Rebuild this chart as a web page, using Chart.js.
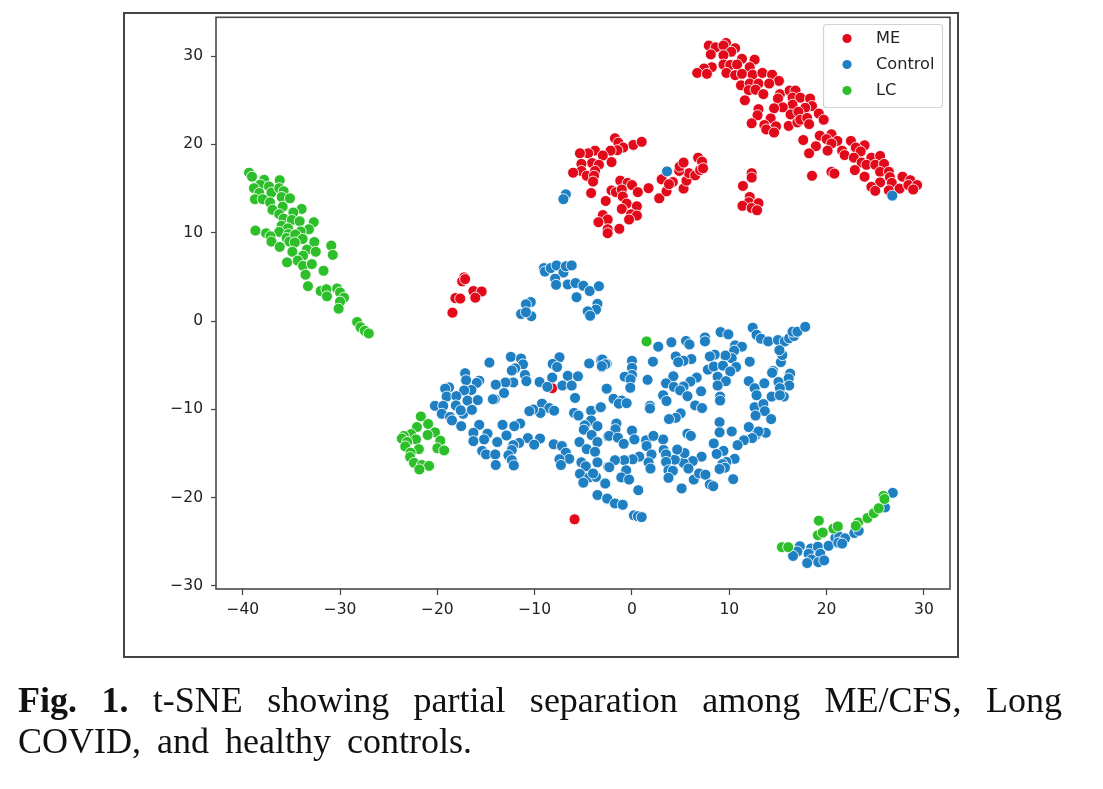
<!DOCTYPE html>
<html>
<head>
<meta charset="utf-8">
<title>t-SNE</title>
<script src="https://cdn.jsdelivr.net/npm/chart.js@4"></script>
<style>
  html, body { margin: 0; padding: 0; background: #fff; }
  body { width: 1103px; height: 789px; position: relative; overflow: hidden; }
  #frame { position: absolute; left: 123px; top: 12px; width: 832px; height: 642px; border: 2px solid #444; }
  canvas { position: absolute; left: 0; top: 0; }
  .caption { position: absolute; left: 18px; width: 1044px; font-family: "Liberation Serif", serif; font-size: 36px; line-height: 40px; color: #111; white-space: nowrap; }
  #line1 { top: 680px; text-align: justify; text-align-last: justify; white-space: normal; }
  #line2 { top: 721px; word-spacing: 7px; }
</style>
</head>
<body>
<div id="frame"></div>
<canvas id="chart" width="1103" height="789"></canvas>
<div class="caption" id="line1"><b>Fig. 1.</b> t-SNE showing partial separation among ME/CFS, Long</div>
<div class="caption" id="line2">COVID, and healthy controls.</div>
<script>
const xTicks = [-40, -30, -20, -10, 0, 10, 20, 30];
const yTicks = [-30, -20, -10, 0, 10, 20, 30];
const seriesNames = ['ME', 'Control', 'LC'];
const seriesColors = ['#e2091a', '#1e7fc3', '#2dbf2a'];

const mePoints = [
  [7.9,31.2],[8.6,31.0],[9.66,31.5],[9.4,31.2],[10.6,30.9],[10.2,30.5],[8.1,30.2],[9.4,30.1],[11.3,29.7],[12.6,29.6],
  [9.4,29.05],[10.1,29.0],[10.8,29.05],[8.2,28.75],[7.4,28.6],[6.7,28.1],[7.7,28.0],[9.7,28.1],[12.1,28.75],[10.6,27.85],
  [11.3,28.0],[12.4,27.9],[13.4,28.1],[14.4,27.9],[15.1,27.2],[11.2,26.7],[12.1,26.9],[13.0,26.9],[14.1,26.9],[12.0,26.15],
  [12.7,26.2],[13.5,25.7],[11.6,25.0],[15.2,25.7],[15.0,25.2],[16.2,26.1],[16.8,26.1],[16.5,25.3],[17.3,25.3],[18.3,25.2],
  [18.5,24.35],[16.5,24.5],[15.5,24.2],[14.6,24.1],[17.8,24.15],[13.0,24.0],[12.9,23.3],[14.25,22.95],[16.3,23.4],[17.1,23.7],
  [19.2,23.5],[19.7,22.8],[12.3,22.4],[13.6,22.2],[14.8,22.05],[13.8,21.7],[14.6,21.35],[16.1,22.1],[17.0,22.5],[17.3,22.8],
  [18.0,23.0],[18.2,22.3],[17.6,20.5],[19.3,21.0],[20.5,21.15],[20.0,20.6],[21.1,20.4],[20.5,20.1],[22.5,20.4],[23.9,19.9],
  [23.0,19.65],[18.9,19.8],[20.1,19.3],[18.2,19.0],[21.6,19.3],[21.85,18.8],[23.5,19.2],[22.8,18.5],[24.6,18.5],[25.5,18.7],
  [23.6,17.95],[24.1,17.7],[25.0,17.7],[25.9,17.8],[25.5,16.9],[22.9,17.1],[26.4,16.9],[26.5,16.3],[18.5,16.45],[20.5,16.9],
  [20.8,16.7],[23.9,16.35],[27.8,16.35],[28.6,15.95],[26.7,15.65],[25.5,15.7],[24.6,15.2],[25.0,14.75],[26.4,14.8],[27.5,15.0],
  [28.4,15.4],[29.3,15.4],[28.9,14.9],
  [-1.75,20.7],[-1.4,20.2],[0.14,19.95],[1.0,20.3],[-0.9,19.65],[-1.5,19.35],[-2.2,19.3],[-3.8,19.3],[-4.5,19.0],[-5.35,19.0],
  [-3.0,18.75],[-2.1,18.0],[-4.1,17.9],[-3.4,17.7],[-5.2,17.8],[-5.2,17.0],[-4.65,16.45],[-3.8,17.0],[-6.05,16.8],[-3.9,16.45],
  [-4.0,15.8],[-4.2,14.5],[-1.2,15.9],[-0.45,15.65],[0.0,15.4],[-2.1,14.8],[-1.65,14.6],[-1.05,14.9],[0.6,14.6],[1.7,15.05],
  [-0.95,14.1],[-2.7,13.6],[-0.55,13.3],[0.5,13.0],[-1.05,12.7],[-0.1,12.1],[0.5,11.95],[-0.3,11.5],[-3.0,12.0],[-2.5,11.5],
  [-3.45,11.2],[-2.5,10.4],[-2.5,9.95],[-1.3,10.45],[2.8,13.9],[3.55,14.7],[4.2,15.75],[3.05,16.05],[5.3,15.0],[5.6,15.9],
  [5.85,16.75],[6.5,16.5],[4.85,17.0],[4.9,17.5],[5.3,17.95],[6.8,18.5],[7.2,18.05],[7.0,17.1],[7.3,17.3],[3.8,15.5],
  [12.3,16.75],[12.3,16.25],[11.4,15.3],[12.1,14.05],[12.0,13.45],[13.0,13.35],[11.35,13.05],[12.3,12.8],[12.85,12.55],
  [-17.25,4.95],[-17.45,4.5],[-17.15,4.75],[-16.3,3.4],[-15.45,3.35],[-16.1,2.65],[-18.15,2.6],[-17.65,2.55],[-18.45,0.95],
  [-8.2,-7.6],[-5.9,-22.45]
];

const controlPoints = [
  [26.75,14.2],[3.6,16.95],[-6.8,14.35],[-7.05,13.8],[-9.05,6.0],[-8.95,5.6],[-8.35,6.0],[-7.75,6.3],[-7.05,5.5],[-6.8,6.2],
  [-6.2,6.3],[-7.9,4.8],[-7.8,4.1],[-6.6,4.15],[-5.8,4.3],[-5.0,4.0],[-4.35,3.4],[-3.4,3.95],[-5.7,2.7],[-3.55,1.95],
  [-3.7,1.3],[-4.55,1.1],[-4.3,0.6],[-10.4,2.15],[-10.35,0.55],[-10.9,1.9],[-11.4,0.8],[-10.9,1.0],
  [-14.65,-4.7],[-12.45,-4.05],[-11.4,-4.25],[-11.2,-4.9],[-12.0,-5.35],[-12.35,-5.6],[-11.0,-6.1],[-10.85,-6.8],[-12.2,-6.95],[-13.0,-6.95],
  [-14.0,-7.2],[-13.15,-8.15],[-14.1,-8.85],[-14.3,-8.85],[-17.15,-5.9],[-17.05,-6.7],[-15.7,-6.75],[-15.95,-7.0],[-16.5,-7.8],[-17.25,-7.85],
  [-18.8,-7.5],[-19.2,-7.65],[-19.05,-8.55],[-18.05,-8.5],[-16.9,-9.0],[-15.85,-8.95],[-20.25,-9.6],[-19.4,-9.6],[-18.1,-9.55],[-19.55,-10.5],
  [-17.35,-10.5],[-16.45,-10.05],[-17.6,-10.1],[-18.7,-10.85],[-18.5,-11.25],[-17.55,-11.9],[-15.7,-11.75],[-13.3,-11.75],[-11.5,-11.6],[-12.1,-11.9],
  [-16.3,-12.65],[-14.85,-12.75],[-15.2,-13.4],[-12.9,-12.95],[-16.3,-13.6],[-13.85,-13.7],[-10.7,-13.25],[-9.45,-13.3],[-10.05,-14.0],[-11.6,-13.8],
  [-12.2,-14.05],[-12.35,-14.6],[-15.4,-14.7],[-15.0,-15.1],[-14.05,-15.1],[-12.7,-15.2],[-12.35,-15.75],[-14.0,-16.3],[-12.15,-16.35],[-8.05,-13.95],
  [-7.2,-14.15],[-6.8,-14.9],[-6.45,-15.6],[-7.45,-15.65],[-7.3,-16.3],[-7.45,-4.1],[-8.15,-4.85],[-7.7,-5.2],[-8.2,-6.4],[-9.5,-6.9],
  [-8.7,-7.45],[-6.6,-6.2],[-5.55,-6.25],[-7.15,-7.3],[-6.2,-7.3],[-4.4,-4.8],[-3.2,-4.4],[-3.1,-5.2],[-2.6,-4.85],[-2.6,-7.7],
  [-5.85,-8.7],[-9.25,-9.35],[-8.5,-9.85],[-8.0,-10.15],[-9.4,-10.4],[-10.15,-10.0],[-10.55,-10.2],[-5.95,-10.4],[-5.5,-10.7],[-4.2,-10.15],
  [-3.3,-9.8],[-4.2,-11.25],[-4.85,-11.8],[-3.55,-11.9],[-4.95,-12.3],[-4.15,-12.9],[-2.45,-13.05],[-5.4,-13.7],[-3.55,-13.7],[-4.65,-14.5],
  [-3.8,-14.8],[-5.2,-16.0],[-3.55,-16.0],[-4.75,-16.45],[-5.35,-17.3],[-2.45,-16.5],[-4.4,-17.7],[-3.7,-17.65],[-4.0,-17.25],[-5.0,-18.3],
  [-2.75,-18.35],[-3.55,-19.7],[-2.55,-20.15],
  [2.7,-2.9],[4.05,-2.4],[5.55,-2.25],[5.9,-2.65],[7.5,-1.85],[7.5,-2.3],[9.1,-1.25],[9.9,-1.5],[12.4,-0.75],[12.8,-1.55],
  [13.25,-2.0],[14.0,-2.3],[15.0,-2.15],[15.7,-2.3],[16.15,-1.95],[16.65,-1.7],[16.5,-1.2],[17.0,-1.2],[17.8,-0.65],[10.6,-2.75],
  [11.3,-2.9],[10.5,-3.35],[10.25,-4.2],[9.6,-3.9],[8.5,-3.8],[8.0,-4.0],[4.5,-4.0],[6.1,-4.3],[5.3,-4.5],[4.75,-4.65],
  [2.15,-4.6],[0.0,-4.5],[-3.05,-4.35],[-2.75,-4.9],[-3.1,-5.1],[0.0,-5.3],[0.0,-6.1],[-0.75,-6.3],[-0.15,-6.6],[-0.17,-7.55],
  [1.6,-6.65],[4.25,-6.25],[6.65,-6.4],[6.0,-6.85],[3.5,-7.05],[4.3,-7.45],[5.3,-7.4],[4.95,-7.85],[7.1,-7.95],[5.7,-8.5],
  [3.2,-8.4],[3.55,-9.05],[-2.6,-7.65],[-1.9,-8.8],[-1.05,-9.0],[-1.35,-9.35],[-0.55,-9.3],[-3.2,-9.75],[1.85,-9.6],[1.85,-9.9],
  [6.5,-9.55],[7.2,-9.85],[5.0,-10.45],[4.5,-10.95],[3.8,-11.1],[7.8,-5.5],[8.4,-5.15],[9.35,-5.05],[10.7,-5.2],[10.1,-5.7],
  [12.1,-4.6],[8.8,-6.3],[9.65,-6.8],[8.8,-7.3],[9.05,-8.55],[9.05,-9.0],[14.5,-5.65],[14.4,-5.85],[16.25,-5.95],[16.1,-6.5],
  [15.3,-4.65],[15.45,-3.85],[15.15,-3.3],[12.0,-6.8],[12.6,-7.6],[12.8,-8.4],[13.6,-7.05],[15.05,-6.9],[16.15,-7.3],[15.2,-7.6],
  [14.35,-8.55],[15.6,-8.55],[15.2,-8.4],[12.6,-9.75],[13.5,-9.4],[13.65,-10.2],[12.7,-10.7],[14.3,-11.1],[9.0,-11.45],[12.0,-12.0],
  [9.0,-12.6],[10.25,-12.5],[13.75,-12.65],[12.75,-12.85],[13.0,-12.5],[12.35,-13.25],[11.5,-13.5],[10.85,-14.05],[8.4,-13.85],[9.4,-14.7],
  [8.7,-15.05],[10.55,-15.6],[9.7,-15.95],[9.3,-16.2],[9.55,-16.6],[9.0,-16.75],[10.4,-17.9],[7.15,-15.35],[6.25,-15.85],[5.3,-16.05],
  [4.4,-15.7],[5.4,-14.95],[4.65,-14.55],[3.2,-13.4],[3.25,-14.6],[3.5,-15.1],[3.5,-15.95],[3.75,-16.9],[4.2,-16.95],[3.75,-17.75],
  [5.8,-16.7],[6.35,-17.95],[6.9,-17.25],[7.55,-17.4],[8.0,-18.5],[8.35,-18.7],[5.1,-18.95],[5.7,-12.75],[6.05,-13.0],[1.45,-13.5],
  [2.2,-13.0],[1.5,-14.15],[2.0,-15.1],[1.7,-16.0],[1.9,-16.7],[0.75,-15.35],[0.07,-15.65],[-0.8,-15.75],[-1.75,-15.75],[-2.33,-16.55],
  [-0.6,-16.9],[-1.1,-17.7],[-0.3,-17.95],[-2.75,-18.4],[0.65,-19.15],[-2.55,-20.1],[-1.75,-20.65],[-0.95,-20.8],[-1.6,-11.6],[-1.7,-12.25],
  [-2.35,-13.0],[-1.45,-13.2],[-0.85,-13.9],[0.0,-12.4],[0.25,-13.4],[0.2,-22.0],[0.6,-22.1],[1.0,-22.2],
  [26.8,-19.45],[26.0,-21.1],[17.25,-25.5],[17.0,-26.1],[16.55,-26.6],[18.4,-25.75],[19.1,-25.55],[18.15,-26.35],[19.35,-26.35],[18.45,-27.0],
  [18.0,-27.4],[19.15,-27.3],[19.75,-27.1],[20.2,-25.45],[20.9,-24.55],[21.3,-24.4],[21.9,-24.6],[21.2,-25.1],[21.6,-25.2],[22.85,-24.0],[23.3,-23.75]
];

const lcPoints = [
  [-39.35,16.8],[-39.05,16.35],[-37.8,16.0],[-36.2,15.95],[-38.2,15.45],[-38.85,15.05],[-37.3,15.25],[-37.05,14.55],[-38.3,14.5],[-36.25,15.05],
  [-35.8,14.7],[-36.0,14.05],[-35.15,13.9],[-38.75,13.8],[-37.95,13.8],[-37.2,13.45],[-35.9,12.95],[-36.95,12.6],[-33.95,12.7],[-34.8,12.3],
  [-36.25,12.1],[-35.8,11.6],[-34.95,11.45],[-34.15,11.3],[-32.7,11.2],[-36.0,10.8],[-35.35,10.5],[-33.2,10.4],[-36.25,10.1],[-34.05,10.15],
  [-35.3,9.85],[-38.7,10.25],[-37.6,9.95],[-37.15,9.6],[-37.05,9.0],[-35.5,9.4],[-35.2,9.0],[-34.6,9.8],[-33.85,9.3],[-34.65,8.9],
  [-32.65,8.95],[-30.9,8.55],[-36.2,8.4],[-34.9,7.85],[-33.4,8.1],[-32.5,7.85],[-30.75,7.5],[-33.8,7.4],[-34.35,6.85],[-35.45,6.65],
  [-33.8,6.25],[-32.9,6.45],[-31.7,5.7],[-33.55,5.25],[-33.3,3.95],[-32.0,3.4],[-31.4,3.6],[-31.35,2.8],[-30.3,3.7],[-30.0,3.25],
  [-29.6,2.65],[-30.0,2.2],[-30.15,1.4],[-28.25,-0.1],[-27.9,-0.7],[-27.45,-1.1],[-27.05,-1.4],
  [-21.7,-10.8],[-20.95,-11.65],[-22.1,-12.0],[-20.25,-12.6],[-21.0,-12.9],[-22.7,-12.8],[-23.45,-13.0],[-23.65,-13.3],[-22.2,-13.4],[-19.7,-13.55],
  [-23.1,-13.7],[-23.3,-14.2],[-21.9,-14.5],[-20.0,-14.4],[-19.3,-14.65],[-22.75,-14.9],[-22.8,-15.4],[-22.4,-16.05],[-21.6,-16.3],[-20.85,-16.4],[-21.85,-16.8],
  [1.5,-2.3],
  [15.4,-25.6],[16.05,-25.6],[19.2,-22.6],[19.1,-24.25],[19.6,-23.95],[20.7,-23.5],[21.15,-23.25],[23.25,-22.8],[23.0,-23.2],[24.2,-22.3],
  [24.85,-21.75],[25.35,-21.2],[25.85,-19.8],[25.95,-20.15]
];

const seriesPoints = [mePoints, controlPoints, lcPoints];

// frame round the axes and the legend box, seaborn style
const axesExtras = {
  id: 'axesExtras',
  afterDatasetsDraw(chart) {
    const { ctx, chartArea: a } = chart;
    ctx.save();
    ctx.strokeStyle = '#4a4a4a';
    ctx.lineWidth = 1.6;
    ctx.strokeRect(a.left, a.top, a.right - a.left, a.bottom - a.top);

    ctx.fillStyle = 'rgba(255,255,255,0.8)';
    ctx.strokeStyle = '#d4d4d4';
    ctx.lineWidth = 1.2;
    ctx.beginPath();
    ctx.roundRect(823.5, 24.5, 119, 83, 3);
    ctx.fill();
    ctx.stroke();

    ctx.font = '16.2px "DejaVu Sans"';
    ctx.textBaseline = 'middle';
    seriesNames.forEach((name, i) => {
      const y = 38.5 + i * 26;
      ctx.fillStyle = seriesColors[i];
      ctx.beginPath();
      ctx.arc(847, y, 4.6, 0, Math.PI * 2);
      ctx.fill();
      ctx.fillStyle = '#222';
      ctx.fillText(name, 876, y + 0.5);
    });
    ctx.restore();
  }
};

const tickBase = {
  color: '#222',
  autoSkip: false,
  maxRotation: 0,
  font: { family: '"DejaVu Sans"', size: 15.5 },
  callback: value => String(value).replace('-', '\u2212')
};

const gridBase = { drawOnChartArea: false, drawTicks: true, tickColor: '#444', tickWidth: 1.2 };

new Chart(document.getElementById('chart'), {
  type: 'scatter',
  data: {
    datasets: seriesNames.map((name, i) => ({
      label: name,
      data: seriesPoints[i].map(p => ({ x: p[0], y: p[1] })),
      backgroundColor: seriesColors[i],
      borderColor: 'rgba(255,255,255,0.85)',
      borderWidth: 1,
      pointRadius: 5.5,
      order: seriesNames.length - i
    }))
  },
  options: {
    responsive: false,
    animation: false,
    devicePixelRatio: 1,
    layout: { padding: { left: 156, right: 153, top: 16, bottom: 160 } },
    plugins: { legend: { display: false }, tooltip: { enabled: false } },
    scales: {
      x: {
        min: -42.75,
        max: 32.68,
        grid: { ...gridBase, tickLength: 6 },
        border: { display: false },
        ticks: { ...tickBase, padding: 6 },
        afterBuildTicks: scale => { scale.ticks = xTicks.map(v => ({ value: v })); },
        afterFit: scale => { scale.height = 40; }
      },
      y: {
        min: -30.34,
        max: 34.4,
        grid: { ...gridBase, tickLength: 5 },
        border: { display: false },
        ticks: { ...tickBase, padding: 8 },
        afterBuildTicks: scale => { scale.ticks = yTicks.map(v => ({ value: v })); },
        afterFit: scale => { scale.width = 60; }
      }
    }
  },
  plugins: [axesExtras]
});
</script>
</body>
</html>
